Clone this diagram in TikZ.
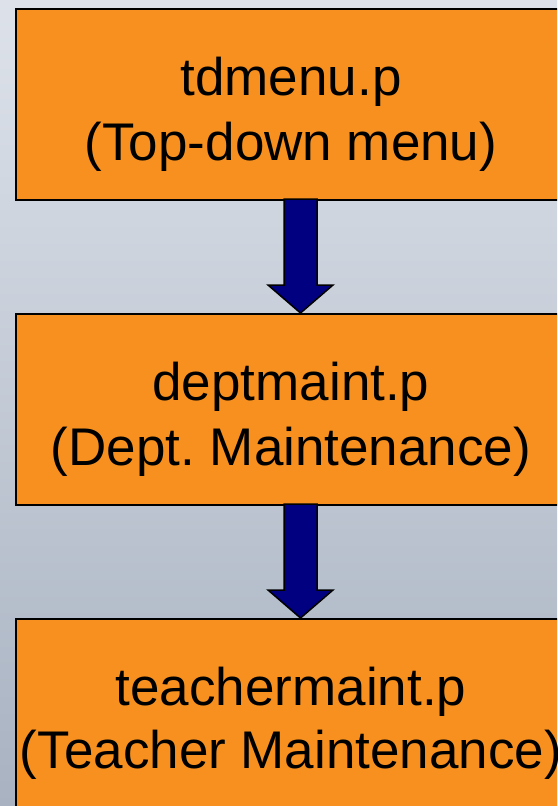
\documentclass[tikz,border=0pt]{standalone}
\usepackage{fontspec}
\setmainfont{Liberation Sans}
\frenchspacing
\usetikzlibrary{calc}
\definecolor{boxorange}{RGB}{247,144,30}
\definecolor{arrownavy}{RGB}{0,0,128}
\definecolor{bgtop}{RGB}{221,226,234}
\definecolor{bgbot}{RGB}{168,178,193}
\tikzset{
  procbox/.style={draw=black, line width=2pt, fill=boxorange, rectangle, minimum width=552pt, minimum height=191pt, anchor=north west, inner sep=0pt},
  boxtext/.style={anchor=base, inner sep=0pt, font=\fontsize{53}{63}\selectfont, text=black},
  bigarrow/.style={draw=black, line width=1.5pt, fill=arrownavy, line join=miter}
}
\begin{document}
\begin{tikzpicture}[x=1pt,y=-1pt]
\clip (0,0) rectangle (557,806);
\shade[top color=bgtop, bottom color=bgbot] (0,0) rectangle (557,806);
\useasboundingbox (0,0) rectangle (557,806);
\node[procbox] (b1) at (15,8) {};
\node[procbox] (b2) at (15,313) {};
\node[procbox] (b3) at (15,618) {};
\node[boxtext] (t1a) at (291,95) {tdmenu.p};
\node[boxtext] (t1b) at (291,160) {(Top-down menu)};
\node[boxtext] (t2a) at (291,400) {deptmaint.p};
\node[boxtext] (t2b) at (291,465) {(Dept. Maintenance)};
\node[boxtext] (t3a) at (291,705) {teachermaint.p};
\node[boxtext] (t3b) at (291,768) {(Teacher Maintenance)};
\coordinate (a1s) at (300.5,199);
\coordinate (a1e) at (300.5,313);
\coordinate (a2s) at (300.5,504);
\coordinate (a2e) at (300.5,618);
\foreach \s/\e in {a1s/a1e,a2s/a2e}{
  \draw[bigarrow] ($(\s)+(-16.5,0)$) -- ($(\s)+(16.5,0)$) -- ($(\e)+(16.5,-28)$) -- ($(\e)+(32.5,-28)$) -- (\e) -- ($(\e)+(-32.5,-28)$) -- ($(\e)+(-16.5,-28)$) -- cycle;
}
\end{tikzpicture}
\end{document}
